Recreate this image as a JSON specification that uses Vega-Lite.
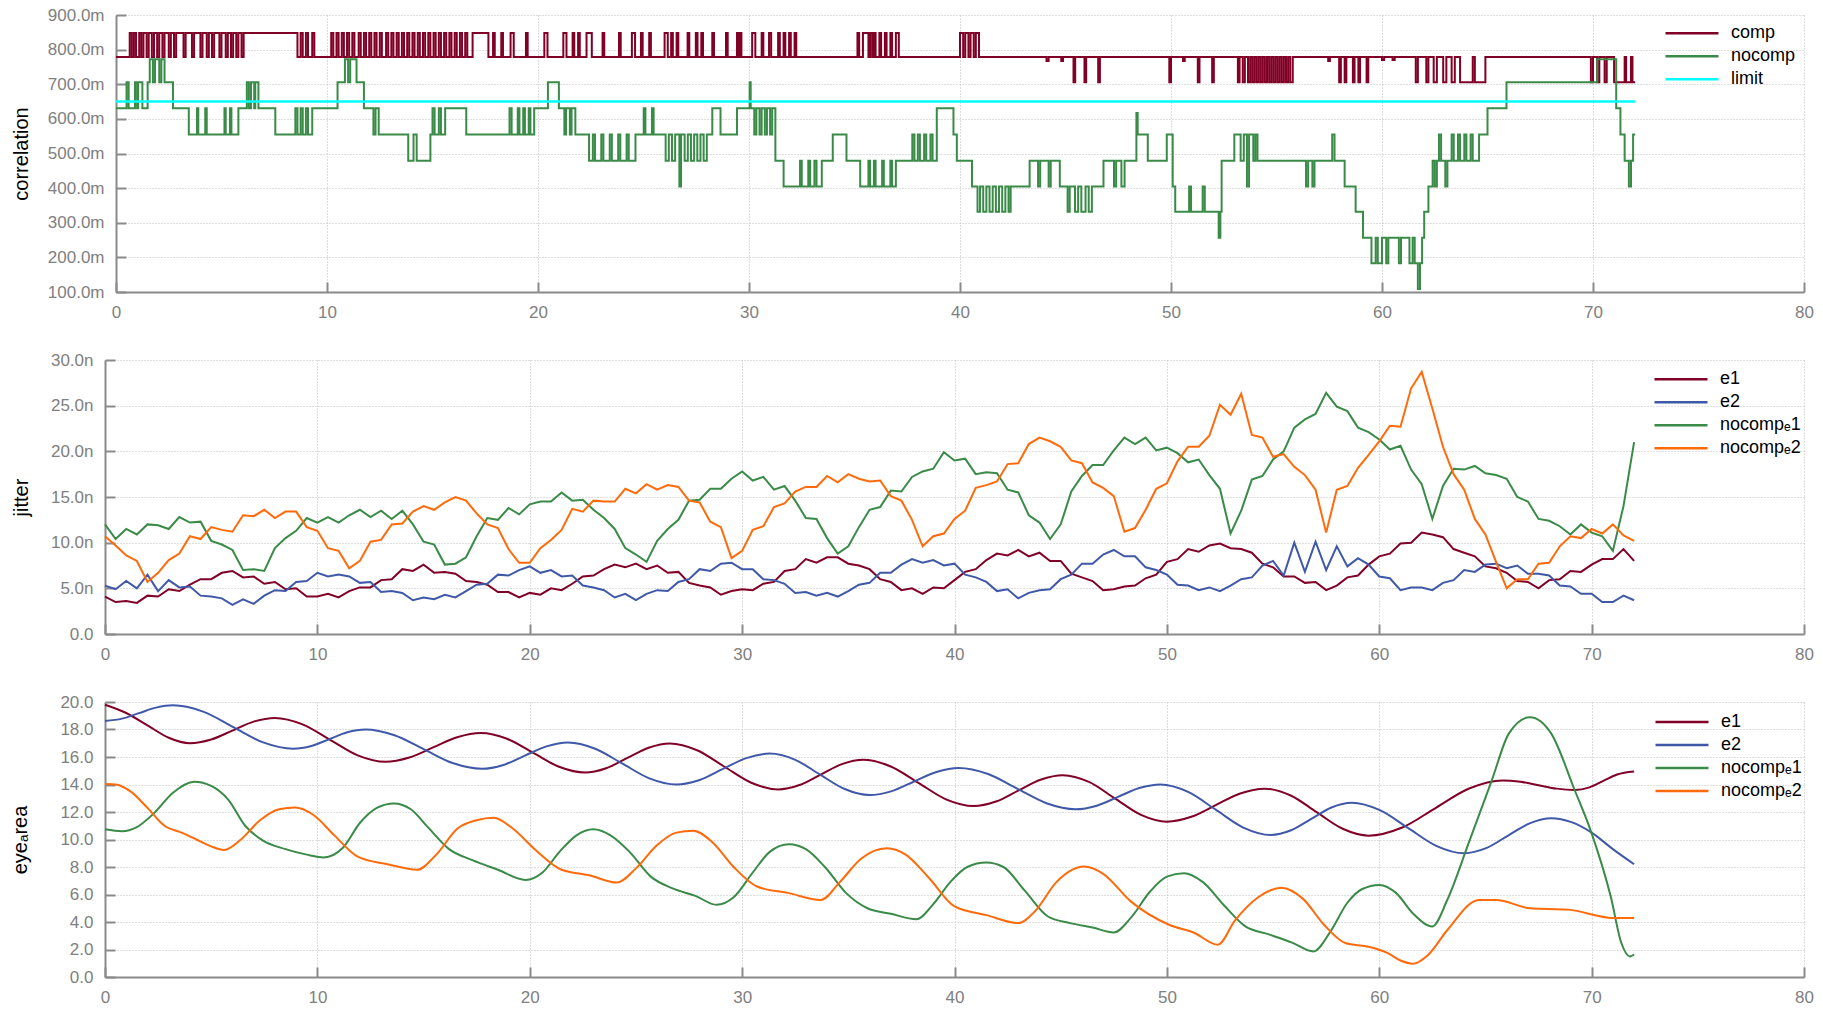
{
"$schema": "https://vega.github.io/schema/vega-lite/v6.json",
"background": "white",
"padding": {"left": 10, "top": 6, "right": 0, "bottom": 0},
"columns": 1,
"spacing": 31,
"resolve": {"scale": {"color": "independent"}, "legend": {"color": "independent"}},
"config": {
  "font": "Liberation Sans",
  "view": {"stroke": null},
  "axis": {
    "domainColor": "#8a8a8a", "domainWidth": 2,
    "tickColor": "#8a8a8a", "tickWidth": 2, "tickSize": -10,
    "labelPadding": 22, "labelColor": "#808080", "labelFontSize": 17, "labelFont": "Liberation Sans",
    "gridColor": "#bdbdbd", "gridDash": [1, 2], "gridWidth": 1,
    "titleFontSize": 20, "titleFontWeight": "normal", "titleColor": "#000000", "titlePadding": 13, "titleFont": "Liberation Sans"
  },
  "legend": {
    "title": null, "labelFontSize": 18, "labelColor": "#000000", "labelFont": "Liberation Sans",
    "symbolType": "stroke", "symbolSize": 2809, "symbolStrokeWidth": 2.5,
    "labelOffset": 11, "clipHeight": 22.6, "rowPadding": 0, "padding": 0
  }
},
"concat": [
{
  "width": 1699, "height": 277,
  "data": {"values": [
{"s":"comp","x":0,"y":0.779},{"s":"comp","x":0.65,"y":0.848},{"s":"comp","x":0.75,"y":0.779},{"s":"comp","x":0.85,"y":0.848},{"s":"comp","x":0.95,"y":0.779},{"s":"comp","x":1.1,"y":0.848},{"s":"comp","x":1.2,"y":0.779},{"s":"comp","x":1.3,"y":0.848},{"s":"comp","x":1.45,"y":0.779},{"s":"comp","x":1.55,"y":0.848},{"s":"comp","x":1.7,"y":0.779},{"s":"comp","x":1.8,"y":0.848},{"s":"comp","x":1.95,"y":0.779},{"s":"comp","x":2.05,"y":0.848},{"s":"comp","x":2.2,"y":0.779},{"s":"comp","x":2.3,"y":0.848},{"s":"comp","x":2.5,"y":0.779},{"s":"comp","x":2.6,"y":0.848},{"s":"comp","x":2.75,"y":0.779},{"s":"comp","x":2.85,"y":0.848},{"s":"comp","x":3.2,"y":0.779},{"s":"comp","x":3.3,"y":0.848},{"s":"comp","x":3.6,"y":0.779},{"s":"comp","x":3.7,"y":0.848},{"s":"comp","x":4.0,"y":0.779},{"s":"comp","x":4.1,"y":0.848},{"s":"comp","x":4.3,"y":0.779},{"s":"comp","x":4.4,"y":0.848},{"s":"comp","x":4.55,"y":0.779},{"s":"comp","x":4.65,"y":0.848},{"s":"comp","x":4.9,"y":0.779},{"s":"comp","x":5.0,"y":0.848},{"s":"comp","x":5.2,"y":0.779},{"s":"comp","x":5.3,"y":0.848},{"s":"comp","x":5.45,"y":0.779},{"s":"comp","x":5.55,"y":0.848},{"s":"comp","x":5.7,"y":0.779},{"s":"comp","x":5.8,"y":0.848},{"s":"comp","x":5.95,"y":0.779},{"s":"comp","x":6.05,"y":0.848},
{"s":"comp","x":8.6,"y":0.779},{"s":"comp","x":8.75,"y":0.848},{"s":"comp","x":8.85,"y":0.779},{"s":"comp","x":9.0,"y":0.848},{"s":"comp","x":9.1,"y":0.779},{"s":"comp","x":9.3,"y":0.848},{"s":"comp","x":9.4,"y":0.779},{"s":"comp","x":10.2,"y":0.848},{"s":"comp","x":10.3,"y":0.779},{"s":"comp","x":10.45,"y":0.848},{"s":"comp","x":10.55,"y":0.779},{"s":"comp","x":10.7,"y":0.848},{"s":"comp","x":10.8,"y":0.779},{"s":"comp","x":10.95,"y":0.848},{"s":"comp","x":11.05,"y":0.779},{"s":"comp","x":11.2,"y":0.848},{"s":"comp","x":11.3,"y":0.779},{"s":"comp","x":11.5,"y":0.848},{"s":"comp","x":11.6,"y":0.779},{"s":"comp","x":11.75,"y":0.848},{"s":"comp","x":11.85,"y":0.779},{"s":"comp","x":12.0,"y":0.848},{"s":"comp","x":12.1,"y":0.779},{"s":"comp","x":12.25,"y":0.848},{"s":"comp","x":12.35,"y":0.779},{"s":"comp","x":12.5,"y":0.848},{"s":"comp","x":12.6,"y":0.779},{"s":"comp","x":12.8,"y":0.848},{"s":"comp","x":12.9,"y":0.779},{"s":"comp","x":13.05,"y":0.848},{"s":"comp","x":13.15,"y":0.779},{"s":"comp","x":13.3,"y":0.848},{"s":"comp","x":13.4,"y":0.779},{"s":"comp","x":13.55,"y":0.848},{"s":"comp","x":13.65,"y":0.779},{"s":"comp","x":13.8,"y":0.848},{"s":"comp","x":13.9,"y":0.779},{"s":"comp","x":14.05,"y":0.848},{"s":"comp","x":14.15,"y":0.779},{"s":"comp","x":14.3,"y":0.848},{"s":"comp","x":14.4,"y":0.779},{"s":"comp","x":14.55,"y":0.848},{"s":"comp","x":14.65,"y":0.779},{"s":"comp","x":14.8,"y":0.848},{"s":"comp","x":14.9,"y":0.779},{"s":"comp","x":15.05,"y":0.848},{"s":"comp","x":15.15,"y":0.779},{"s":"comp","x":15.3,"y":0.848},{"s":"comp","x":15.4,"y":0.779},{"s":"comp","x":15.55,"y":0.848},{"s":"comp","x":15.65,"y":0.779},{"s":"comp","x":15.8,"y":0.848},{"s":"comp","x":15.9,"y":0.779},{"s":"comp","x":16.05,"y":0.848},{"s":"comp","x":16.15,"y":0.779},{"s":"comp","x":16.3,"y":0.848},{"s":"comp","x":16.4,"y":0.779},{"s":"comp","x":16.55,"y":0.848},{"s":"comp","x":16.65,"y":0.779},{"s":"comp","x":16.9,"y":0.848},{"s":"comp","x":17.65,"y":0.779},
{"s":"comp","x":17.87,"y":0.848},{"s":"comp","x":17.95,"y":0.779},{"s":"comp","x":18.26,"y":0.848},{"s":"comp","x":18.34,"y":0.779},{"s":"comp","x":18.7,"y":0.848},{"s":"comp","x":18.85,"y":0.779},{"s":"comp","x":19.43,"y":0.848},{"s":"comp","x":19.51,"y":0.779},{"s":"comp","x":20.3,"y":0.848},{"s":"comp","x":20.45,"y":0.779},{"s":"comp","x":21.2,"y":0.848},{"s":"comp","x":21.35,"y":0.779},{"s":"comp","x":21.64,"y":0.848},{"s":"comp","x":21.72,"y":0.779},{"s":"comp","x":21.9,"y":0.848},{"s":"comp","x":21.98,"y":0.779},{"s":"comp","x":22.3,"y":0.848},{"s":"comp","x":22.55,"y":0.779},{"s":"comp","x":23.06,"y":0.848},{"s":"comp","x":23.14,"y":0.779},{"s":"comp","x":23.84,"y":0.848},{"s":"comp","x":23.92,"y":0.779},{"s":"comp","x":24.45,"y":0.848},{"s":"comp","x":24.6,"y":0.779},{"s":"comp","x":24.88,"y":0.848},{"s":"comp","x":24.96,"y":0.779},{"s":"comp","x":25.27,"y":0.848},{"s":"comp","x":25.35,"y":0.779},{"s":"comp","x":26.0,"y":0.848},{"s":"comp","x":26.15,"y":0.779},{"s":"comp","x":26.31,"y":0.848},{"s":"comp","x":26.39,"y":0.779},{"s":"comp","x":26.57,"y":0.848},{"s":"comp","x":26.65,"y":0.779},{"s":"comp","x":27.09,"y":0.848},{"s":"comp","x":27.17,"y":0.779},{"s":"comp","x":27.48,"y":0.848},{"s":"comp","x":27.56,"y":0.779},{"s":"comp","x":27.74,"y":0.848},{"s":"comp","x":27.82,"y":0.779},{"s":"comp","x":28.26,"y":0.848},{"s":"comp","x":28.34,"y":0.779},{"s":"comp","x":28.91,"y":0.848},{"s":"comp","x":28.99,"y":0.779},{"s":"comp","x":29.43,"y":0.848},{"s":"comp","x":29.5,"y":0.779},{"s":"comp","x":29.56,"y":0.848},{"s":"comp","x":29.64,"y":0.779},{"s":"comp","x":30.15,"y":0.848},{"s":"comp","x":30.3,"y":0.779},{"s":"comp","x":30.6,"y":0.848},{"s":"comp","x":30.68,"y":0.779},{"s":"comp","x":30.95,"y":0.848},{"s":"comp","x":31.05,"y":0.779},{"s":"comp","x":31.38,"y":0.848},{"s":"comp","x":31.46,"y":0.779},{"s":"comp","x":31.64,"y":0.848},{"s":"comp","x":31.72,"y":0.779},{"s":"comp","x":31.9,"y":0.848},{"s":"comp","x":31.98,"y":0.779},{"s":"comp","x":32.16,"y":0.848},{"s":"comp","x":32.24,"y":0.779},
{"s":"comp","x":35.14,"y":0.848},{"s":"comp","x":35.22,"y":0.779},{"s":"comp","x":35.4,"y":0.848},{"s":"comp","x":35.66,"y":0.779},{"s":"comp","x":35.75,"y":0.848},{"s":"comp","x":35.85,"y":0.779},{"s":"comp","x":35.92,"y":0.848},{"s":"comp","x":36.0,"y":0.779},{"s":"comp","x":36.18,"y":0.848},{"s":"comp","x":36.26,"y":0.779},{"s":"comp","x":36.44,"y":0.848},{"s":"comp","x":36.52,"y":0.779},{"s":"comp","x":36.7,"y":0.848},{"s":"comp","x":36.78,"y":0.779},{"s":"comp","x":36.96,"y":0.848},{"s":"comp","x":37.1,"y":0.779},
{"s":"comp","x":40.0,"y":0.848},{"s":"comp","x":40.15,"y":0.779},{"s":"comp","x":40.25,"y":0.848},{"s":"comp","x":40.4,"y":0.779},{"s":"comp","x":40.5,"y":0.848},{"s":"comp","x":40.65,"y":0.779},{"s":"comp","x":40.75,"y":0.848},{"s":"comp","x":40.9,"y":0.779},
{"s":"comp","x":44.1,"y":0.767},{"s":"comp","x":44.2,"y":0.779},{"s":"comp","x":44.8,"y":0.767},{"s":"comp","x":44.88,"y":0.779},{"s":"comp","x":45.38,"y":0.706},{"s":"comp","x":45.46,"y":0.779},{"s":"comp","x":45.9,"y":0.706},{"s":"comp","x":45.98,"y":0.779},{"s":"comp","x":46.55,"y":0.706},{"s":"comp","x":46.63,"y":0.779},
{"s":"comp","x":49.92,"y":0.706},{"s":"comp","x":50.0,"y":0.779},{"s":"comp","x":50.57,"y":0.767},{"s":"comp","x":50.65,"y":0.779},{"s":"comp","x":51.27,"y":0.706},{"s":"comp","x":51.35,"y":0.779},{"s":"comp","x":51.95,"y":0.706},{"s":"comp","x":52.03,"y":0.779},
{"s":"comp","x":53.17,"y":0.706},{"s":"comp","x":53.25,"y":0.779},{"s":"comp","x":53.4,"y":0.706},{"s":"comp","x":53.5,"y":0.779},{"s":"comp","x":53.65,"y":0.706},{"s":"comp","x":53.75,"y":0.779},{"s":"comp","x":53.85,"y":0.706},{"s":"comp","x":53.95,"y":0.779},{"s":"comp","x":54.05,"y":0.706},{"s":"comp","x":54.15,"y":0.779},{"s":"comp","x":54.25,"y":0.706},{"s":"comp","x":54.35,"y":0.779},{"s":"comp","x":54.45,"y":0.706},{"s":"comp","x":54.55,"y":0.779},{"s":"comp","x":54.65,"y":0.706},{"s":"comp","x":54.75,"y":0.779},{"s":"comp","x":54.85,"y":0.706},{"s":"comp","x":54.95,"y":0.779},{"s":"comp","x":55.05,"y":0.706},{"s":"comp","x":55.15,"y":0.779},{"s":"comp","x":55.25,"y":0.706},{"s":"comp","x":55.35,"y":0.779},{"s":"comp","x":55.45,"y":0.706},{"s":"comp","x":55.55,"y":0.779},{"s":"comp","x":55.65,"y":0.706},{"s":"comp","x":55.77,"y":0.779},
{"s":"comp","x":57.45,"y":0.767},{"s":"comp","x":57.53,"y":0.779},{"s":"comp","x":57.97,"y":0.706},{"s":"comp","x":58.05,"y":0.779},{"s":"comp","x":58.23,"y":0.706},{"s":"comp","x":58.31,"y":0.779},{"s":"comp","x":58.62,"y":0.706},{"s":"comp","x":58.7,"y":0.779},{"s":"comp","x":58.88,"y":0.706},{"s":"comp","x":58.96,"y":0.779},{"s":"comp","x":59.27,"y":0.706},{"s":"comp","x":59.35,"y":0.779},{"s":"comp","x":60.0,"y":0.77},{"s":"comp","x":60.1,"y":0.779},{"s":"comp","x":60.5,"y":0.77},{"s":"comp","x":60.6,"y":0.779},
{"s":"comp","x":61.6,"y":0.706},{"s":"comp","x":61.7,"y":0.779},{"s":"comp","x":62.1,"y":0.706},{"s":"comp","x":62.2,"y":0.779},{"s":"comp","x":62.45,"y":0.706},{"s":"comp","x":62.6,"y":0.779},{"s":"comp","x":62.9,"y":0.706},{"s":"comp","x":63.05,"y":0.779},{"s":"comp","x":63.3,"y":0.706},{"s":"comp","x":63.45,"y":0.779},{"s":"comp","x":63.7,"y":0.706},{"s":"comp","x":64.3,"y":0.779},{"s":"comp","x":64.4,"y":0.706},{"s":"comp","x":64.9,"y":0.779},
{"s":"comp","x":69.9,"y":0.706},{"s":"comp","x":70.0,"y":0.779},{"s":"comp","x":70.2,"y":0.706},{"s":"comp","x":70.3,"y":0.779},{"s":"comp","x":70.55,"y":0.706},{"s":"comp","x":70.65,"y":0.779},{"s":"comp","x":71.0,"y":0.706},{"s":"comp","x":71.5,"y":0.779},{"s":"comp","x":71.57,"y":0.706},{"s":"comp","x":71.8,"y":0.779},{"s":"comp","x":71.87,"y":0.706},{"s":"comp","x":72.0,"y":0.706},
{"s":"nocomp","x":0,"y":0.631},{"s":"nocomp","x":0.5,"y":0.706},{"s":"nocomp","x":0.6,"y":0.631},{"s":"nocomp","x":0.9,"y":0.706},{"s":"nocomp","x":1.0,"y":0.631},{"s":"nocomp","x":1.05,"y":0.706},{"s":"nocomp","x":1.25,"y":0.631},{"s":"nocomp","x":1.5,"y":0.706},{"s":"nocomp","x":1.6,"y":0.772},{"s":"nocomp","x":1.75,"y":0.706},{"s":"nocomp","x":1.85,"y":0.772},{"s":"nocomp","x":2.05,"y":0.706},{"s":"nocomp","x":2.15,"y":0.772},{"s":"nocomp","x":2.3,"y":0.706},{"s":"nocomp","x":2.7,"y":0.631},{"s":"nocomp","x":3.45,"y":0.555},{"s":"nocomp","x":3.84,"y":0.631},{"s":"nocomp","x":3.9,"y":0.555},{"s":"nocomp","x":4.23,"y":0.631},{"s":"nocomp","x":4.3,"y":0.555},{"s":"nocomp","x":5.14,"y":0.631},{"s":"nocomp","x":5.2,"y":0.555},{"s":"nocomp","x":5.4,"y":0.631},{"s":"nocomp","x":5.47,"y":0.555},{"s":"nocomp","x":5.8,"y":0.631},{"s":"nocomp","x":6.2,"y":0.706},{"s":"nocomp","x":6.3,"y":0.631},{"s":"nocomp","x":6.4,"y":0.706},{"s":"nocomp","x":6.55,"y":0.631},{"s":"nocomp","x":6.6,"y":0.706},{"s":"nocomp","x":6.75,"y":0.631},{"s":"nocomp","x":7.55,"y":0.555},{"s":"nocomp","x":8.5,"y":0.631},{"s":"nocomp","x":8.6,"y":0.555},{"s":"nocomp","x":8.75,"y":0.631},{"s":"nocomp","x":8.85,"y":0.555},{"s":"nocomp","x":9.0,"y":0.631},{"s":"nocomp","x":9.1,"y":0.555},{"s":"nocomp","x":9.3,"y":0.631},{"s":"nocomp","x":10.5,"y":0.706},{"s":"nocomp","x":10.85,"y":0.772},{"s":"nocomp","x":11.0,"y":0.706},{"s":"nocomp","x":11.1,"y":0.772},{"s":"nocomp","x":11.4,"y":0.706},{"s":"nocomp","x":11.75,"y":0.631},{"s":"nocomp","x":12.2,"y":0.555},{"s":"nocomp","x":12.3,"y":0.631},{"s":"nocomp","x":12.45,"y":0.555},{"s":"nocomp","x":13.85,"y":0.479},{"s":"nocomp","x":14.1,"y":0.555},{"s":"nocomp","x":14.25,"y":0.479},{"s":"nocomp","x":14.9,"y":0.555},{"s":"nocomp","x":15.0,"y":0.631},{"s":"nocomp","x":15.1,"y":0.555},{"s":"nocomp","x":15.3,"y":0.631},{"s":"nocomp","x":15.4,"y":0.555},{"s":"nocomp","x":15.6,"y":0.631},{"s":"nocomp","x":16.6,"y":0.555},{"s":"nocomp","x":18.65,"y":0.631},{"s":"nocomp","x":18.75,"y":0.555},{"s":"nocomp","x":19.04,"y":0.631},{"s":"nocomp","x":19.12,"y":0.555},{"s":"nocomp","x":19.3,"y":0.631},{"s":"nocomp","x":19.38,"y":0.555},{"s":"nocomp","x":19.56,"y":0.631},{"s":"nocomp","x":19.64,"y":0.555},{"s":"nocomp","x":19.82,"y":0.631},{"s":"nocomp","x":20.47,"y":0.706},{"s":"nocomp","x":20.99,"y":0.631},{"s":"nocomp","x":21.25,"y":0.555},{"s":"nocomp","x":21.33,"y":0.631},{"s":"nocomp","x":21.51,"y":0.555},{"s":"nocomp","x":21.59,"y":0.631},{"s":"nocomp","x":21.77,"y":0.555},{"s":"nocomp","x":22.42,"y":0.479},{"s":"nocomp","x":22.6,"y":0.555},{"s":"nocomp","x":22.7,"y":0.479},{"s":"nocomp","x":23.0,"y":0.555},{"s":"nocomp","x":23.1,"y":0.479},{"s":"nocomp","x":23.4,"y":0.555},{"s":"nocomp","x":23.5,"y":0.479},{"s":"nocomp","x":23.8,"y":0.555},{"s":"nocomp","x":23.9,"y":0.479},{"s":"nocomp","x":24.2,"y":0.555},{"s":"nocomp","x":24.3,"y":0.479},{"s":"nocomp","x":24.62,"y":0.555},{"s":"nocomp","x":25.01,"y":0.631},{"s":"nocomp","x":25.09,"y":0.555},{"s":"nocomp","x":25.4,"y":0.631},{"s":"nocomp","x":25.48,"y":0.555},{"s":"nocomp","x":26.05,"y":0.479},{"s":"nocomp","x":26.2,"y":0.555},{"s":"nocomp","x":26.35,"y":0.479},{"s":"nocomp","x":26.5,"y":0.555},{"s":"nocomp","x":26.7,"y":0.405},{"s":"nocomp","x":26.78,"y":0.555},{"s":"nocomp","x":26.95,"y":0.479},{"s":"nocomp","x":27.1,"y":0.555},{"s":"nocomp","x":27.25,"y":0.479},{"s":"nocomp","x":27.4,"y":0.555},{"s":"nocomp","x":27.55,"y":0.479},{"s":"nocomp","x":27.7,"y":0.555},{"s":"nocomp","x":27.85,"y":0.479},{"s":"nocomp","x":28.0,"y":0.555},{"s":"nocomp","x":28.26,"y":0.631},{"s":"nocomp","x":28.65,"y":0.555},{"s":"nocomp","x":29.43,"y":0.631},{"s":"nocomp","x":30.03,"y":0.706},{"s":"nocomp","x":30.08,"y":0.631},{"s":"nocomp","x":30.25,"y":0.555},{"s":"nocomp","x":30.35,"y":0.631},{"s":"nocomp","x":30.5,"y":0.555},{"s":"nocomp","x":30.6,"y":0.631},{"s":"nocomp","x":30.75,"y":0.555},{"s":"nocomp","x":30.85,"y":0.631},{"s":"nocomp","x":31.0,"y":0.555},{"s":"nocomp","x":31.1,"y":0.631},{"s":"nocomp","x":31.25,"y":0.479},{"s":"nocomp","x":31.64,"y":0.405},{"s":"nocomp","x":32.42,"y":0.479},{"s":"nocomp","x":32.5,"y":0.405},{"s":"nocomp","x":32.81,"y":0.479},{"s":"nocomp","x":32.9,"y":0.405},{"s":"nocomp","x":33.1,"y":0.479},{"s":"nocomp","x":33.2,"y":0.405},{"s":"nocomp","x":33.45,"y":0.479},{"s":"nocomp","x":33.97,"y":0.555},{"s":"nocomp","x":34.62,"y":0.479},{"s":"nocomp","x":35.27,"y":0.405},{"s":"nocomp","x":35.66,"y":0.479},{"s":"nocomp","x":35.74,"y":0.405},{"s":"nocomp","x":35.92,"y":0.479},{"s":"nocomp","x":36.0,"y":0.405},{"s":"nocomp","x":36.31,"y":0.479},{"s":"nocomp","x":36.39,"y":0.405},{"s":"nocomp","x":36.7,"y":0.479},{"s":"nocomp","x":36.78,"y":0.405},{"s":"nocomp","x":36.96,"y":0.479},{"s":"nocomp","x":37.74,"y":0.555},{"s":"nocomp","x":37.84,"y":0.479},{"s":"nocomp","x":38.0,"y":0.555},{"s":"nocomp","x":38.1,"y":0.479},{"s":"nocomp","x":38.3,"y":0.555},{"s":"nocomp","x":38.4,"y":0.479},{"s":"nocomp","x":38.6,"y":0.555},{"s":"nocomp","x":38.7,"y":0.479},{"s":"nocomp","x":38.9,"y":0.631},{"s":"nocomp","x":39.69,"y":0.555},{"s":"nocomp","x":39.85,"y":0.479},{"s":"nocomp","x":40.57,"y":0.405},{"s":"nocomp","x":40.83,"y":0.332},{"s":"nocomp","x":40.95,"y":0.405},{"s":"nocomp","x":41.1,"y":0.332},{"s":"nocomp","x":41.25,"y":0.405},{"s":"nocomp","x":41.4,"y":0.332},{"s":"nocomp","x":41.55,"y":0.405},{"s":"nocomp","x":41.7,"y":0.332},{"s":"nocomp","x":41.85,"y":0.405},{"s":"nocomp","x":42.0,"y":0.332},{"s":"nocomp","x":42.15,"y":0.405},{"s":"nocomp","x":42.3,"y":0.332},{"s":"nocomp","x":42.4,"y":0.405},{"s":"nocomp","x":43.3,"y":0.479},{"s":"nocomp","x":43.7,"y":0.405},{"s":"nocomp","x":43.8,"y":0.479},{"s":"nocomp","x":44.2,"y":0.405},{"s":"nocomp","x":44.3,"y":0.479},{"s":"nocomp","x":44.73,"y":0.405},{"s":"nocomp","x":45.1,"y":0.332},{"s":"nocomp","x":45.2,"y":0.405},{"s":"nocomp","x":45.45,"y":0.332},{"s":"nocomp","x":45.6,"y":0.405},{"s":"nocomp","x":45.75,"y":0.332},{"s":"nocomp","x":45.95,"y":0.405},{"s":"nocomp","x":46.1,"y":0.332},{"s":"nocomp","x":46.25,"y":0.405},{"s":"nocomp","x":46.8,"y":0.479},{"s":"nocomp","x":47.3,"y":0.405},{"s":"nocomp","x":47.4,"y":0.479},{"s":"nocomp","x":47.65,"y":0.405},{"s":"nocomp","x":47.8,"y":0.479},{"s":"nocomp","x":48.36,"y":0.617},{"s":"nocomp","x":48.42,"y":0.555},{"s":"nocomp","x":48.9,"y":0.479},{"s":"nocomp","x":49.8,"y":0.555},{"s":"nocomp","x":50.08,"y":0.405},{"s":"nocomp","x":50.2,"y":0.332},{"s":"nocomp","x":50.86,"y":0.405},{"s":"nocomp","x":50.95,"y":0.332},{"s":"nocomp","x":51.5,"y":0.405},{"s":"nocomp","x":51.6,"y":0.332},{"s":"nocomp","x":52.26,"y":0.257},{"s":"nocomp","x":52.34,"y":0.332},{"s":"nocomp","x":52.4,"y":0.479},{"s":"nocomp","x":53.0,"y":0.555},{"s":"nocomp","x":53.3,"y":0.479},{"s":"nocomp","x":53.45,"y":0.555},{"s":"nocomp","x":53.6,"y":0.405},{"s":"nocomp","x":53.7,"y":0.555},{"s":"nocomp","x":53.9,"y":0.479},{"s":"nocomp","x":54.0,"y":0.555},{"s":"nocomp","x":54.1,"y":0.479},{"s":"nocomp","x":56.4,"y":0.405},{"s":"nocomp","x":56.5,"y":0.479},{"s":"nocomp","x":56.7,"y":0.405},{"s":"nocomp","x":56.8,"y":0.479},{"s":"nocomp","x":57.64,"y":0.555},{"s":"nocomp","x":57.75,"y":0.479},{"s":"nocomp","x":58.23,"y":0.405},{"s":"nocomp","x":58.75,"y":0.332},{"s":"nocomp","x":59.1,"y":0.257},{"s":"nocomp","x":59.5,"y":0.183},{"s":"nocomp","x":59.7,"y":0.257},{"s":"nocomp","x":59.8,"y":0.183},{"s":"nocomp","x":60.0,"y":0.257},{"s":"nocomp","x":60.2,"y":0.183},{"s":"nocomp","x":60.3,"y":0.257},{"s":"nocomp","x":60.8,"y":0.183},{"s":"nocomp","x":60.9,"y":0.257},{"s":"nocomp","x":61.3,"y":0.183},{"s":"nocomp","x":61.45,"y":0.257},{"s":"nocomp","x":61.55,"y":0.183},{"s":"nocomp","x":61.7,"y":0.109},{"s":"nocomp","x":61.8,"y":0.183},{"s":"nocomp","x":61.9,"y":0.257},{"s":"nocomp","x":62.0,"y":0.332},{"s":"nocomp","x":62.2,"y":0.405},{"s":"nocomp","x":62.4,"y":0.479},{"s":"nocomp","x":62.5,"y":0.405},{"s":"nocomp","x":62.6,"y":0.479},{"s":"nocomp","x":62.7,"y":0.555},{"s":"nocomp","x":62.8,"y":0.479},{"s":"nocomp","x":63.0,"y":0.405},{"s":"nocomp","x":63.1,"y":0.479},{"s":"nocomp","x":63.3,"y":0.555},{"s":"nocomp","x":63.4,"y":0.479},{"s":"nocomp","x":63.6,"y":0.555},{"s":"nocomp","x":63.7,"y":0.479},{"s":"nocomp","x":63.9,"y":0.555},{"s":"nocomp","x":64.0,"y":0.479},{"s":"nocomp","x":64.2,"y":0.555},{"s":"nocomp","x":64.3,"y":0.479},{"s":"nocomp","x":64.6,"y":0.555},{"s":"nocomp","x":65.0,"y":0.631},{"s":"nocomp","x":65.9,"y":0.706},{"s":"nocomp","x":70.2,"y":0.772},{"s":"nocomp","x":71.1,"y":0.631},{"s":"nocomp","x":71.3,"y":0.555},{"s":"nocomp","x":71.5,"y":0.479},{"s":"nocomp","x":71.7,"y":0.405},{"s":"nocomp","x":71.8,"y":0.479},{"s":"nocomp","x":71.9,"y":0.555},{"s":"nocomp","x":72.0,"y":0.555},
{"s":"limit","x":0,"y":0.65},{"s":"limit","x":72,"y":0.65}
  ]},
  "encoding": {
    "x": {"field": "x", "type": "quantitative", "scale": {"domain": [0, 80], "nice": false, "range": [11, 1699]}, "axis": {"values": [0,10,20,30,40,50,60,70,80], "format": "d", "labelFlush": false, "title": null}},
    "y": {"field": "y", "type": "quantitative", "scale": {"domain": [0.1, 0.9], "nice": false, "zero": false}, "axis": {"values": [0.1,0.2,0.3,0.4,0.5,0.6,0.7,0.8,0.9], "labelExpr": "format(datum.value*1000,'.1f')+'m'", "title": "correlation", "minExtent": 72, "maxExtent": 72, "offset": -11}},
    "color": {"field": "s", "type": "nominal", "scale": {"domain": ["comp","nocomp","limit"], "range": ["#800026","#3a8a48","#00ffff"]}, "legend": {"orient": "none", "legendX": 1559, "legendY": 7}}
  },
  "layer": [
    {"transform": [{"filter": "datum.s != 'limit'"}], "mark": {"type": "line", "interpolate": "step-after", "strokeWidth": 2}},
    {"transform": [{"filter": "datum.s == 'limit'"}], "mark": {"type": "line", "strokeWidth": 2.5}}
  ]
},
{
  "width": 1699, "height": 274,
  "data": {"values": [
{"x":0,"e1":4.1,"e2":5.3,"n1":12.0,"n2":10.7},{"x":0.5,"e1":3.5,"e2":4.9,"n1":10.4,"n2":9.7},{"x":1,"e1":3.6,"e2":5.8,"n1":11.5,"n2":8.6},{"x":1.5,"e1":3.4,"e2":5.0,"n1":10.9,"n2":8.0},{"x":2,"e1":4.2,"e2":6.5,"n1":12.0,"n2":5.7},{"x":2.5,"e1":4.1,"e2":4.7,"n1":11.9,"n2":6.7},{"x":3,"e1":4.9,"e2":5.9,"n1":11.5,"n2":8.1},{"x":3.5,"e1":4.7,"e2":5.1,"n1":12.8,"n2":8.8},{"x":4,"e1":5.4,"e2":5.2,"n1":12.2,"n2":10.7},{"x":4.5,"e1":6.0,"e2":4.2,"n1":12.3,"n2":10.4},{"x":5,"e1":6.0,"e2":4.1,"n1":10.2,"n2":11.7},{"x":5.5,"e1":6.7,"e2":3.9,"n1":9.8,"n2":11.4},{"x":6,"e1":6.9,"e2":3.2,"n1":9.2,"n2":11.2},{"x":6.5,"e1":6.2,"e2":3.8,"n1":7.0,"n2":13.0},{"x":7,"e1":6.3,"e2":3.3,"n1":7.1,"n2":12.9},{"x":7.5,"e1":5.5,"e2":4.2,"n1":6.9,"n2":13.6},{"x":8,"e1":5.7,"e2":4.8,"n1":9.4,"n2":12.7},{"x":8.5,"e1":4.9,"e2":4.7,"n1":10.5,"n2":13.4},{"x":9,"e1":5.0,"e2":5.7,"n1":11.3,"n2":13.4},{"x":9.5,"e1":4.1,"e2":5.8,"n1":12.7,"n2":11.7},{"x":10,"e1":4.1,"e2":6.7,"n1":12.2,"n2":11.3},{"x":10.5,"e1":4.4,"e2":6.3,"n1":12.8,"n2":9.4},{"x":11,"e1":4.0,"e2":6.5,"n1":12.2,"n2":9.1},{"x":11.5,"e1":4.7,"e2":6.3,"n1":13.0,"n2":7.2},{"x":12,"e1":5.1,"e2":5.6,"n1":13.6,"n2":8.0},{"x":12.5,"e1":5.1,"e2":5.7,"n1":12.8,"n2":10.1},{"x":13,"e1":5.9,"e2":4.6,"n1":13.5,"n2":10.3},{"x":13.5,"e1":6.0,"e2":4.7,"n1":12.6,"n2":12.0},{"x":14,"e1":7.1,"e2":4.5,"n1":13.5,"n2":12.1},{"x":14.5,"e1":6.9,"e2":3.7,"n1":12.0,"n2":13.4},{"x":15,"e1":7.6,"e2":4.0,"n1":10.1,"n2":14.0},{"x":15.5,"e1":6.7,"e2":3.8,"n1":9.8,"n2":13.6},{"x":16,"e1":6.8,"e2":4.3,"n1":7.6,"n2":14.4},{"x":16.5,"e1":6.6,"e2":4.0,"n1":7.7,"n2":15.0},{"x":17,"e1":5.8,"e2":4.7,"n1":8.4,"n2":14.6},{"x":17.5,"e1":5.7,"e2":5.4,"n1":10.7,"n2":13.2},{"x":18,"e1":5.4,"e2":5.5,"n1":12.7,"n2":12.0},{"x":18.5,"e1":4.6,"e2":6.5,"n1":12.5,"n2":11.6},{"x":19,"e1":4.6,"e2":6.4,"n1":13.8,"n2":9.3},{"x":19.5,"e1":4.0,"e2":7.0,"n1":13.1,"n2":7.8},{"x":20,"e1":4.5,"e2":7.4,"n1":14.2,"n2":7.8},{"x":20.5,"e1":4.3,"e2":6.7,"n1":14.5,"n2":9.4},{"x":21,"e1":5.0,"e2":7.0,"n1":14.5,"n2":10.3},{"x":21.5,"e1":4.8,"e2":6.3,"n1":15.5,"n2":11.4},{"x":22,"e1":5.5,"e2":6.4,"n1":14.6,"n2":13.7},{"x":22.5,"e1":6.3,"e2":5.3,"n1":14.7,"n2":13.4},{"x":23,"e1":6.4,"e2":5.1,"n1":13.6,"n2":14.6},{"x":23.5,"e1":7.1,"e2":4.8,"n1":12.7,"n2":14.5},{"x":24,"e1":7.6,"e2":4.0,"n1":11.5,"n2":14.5},{"x":24.5,"e1":7.3,"e2":4.4,"n1":9.4,"n2":15.9},{"x":25,"e1":7.7,"e2":3.7,"n1":8.7,"n2":15.4},{"x":25.5,"e1":7.1,"e2":4.4,"n1":7.9,"n2":16.4},{"x":26,"e1":7.5,"e2":4.8,"n1":10.2,"n2":15.8},{"x":26.5,"e1":6.7,"e2":4.7,"n1":11.5,"n2":16.3},{"x":27,"e1":6.8,"e2":5.7,"n1":12.5,"n2":16.1},{"x":27.5,"e1":5.6,"e2":6.0,"n1":14.6,"n2":14.6},{"x":28,"e1":5.3,"e2":7.1,"n1":14.7,"n2":14.4},{"x":28.5,"e1":5.1,"e2":6.9,"n1":15.9,"n2":12.3},{"x":29,"e1":4.3,"e2":7.7,"n1":15.9,"n2":11.7},{"x":29.5,"e1":4.7,"e2":7.8,"n1":17.0,"n2":8.3},{"x":30,"e1":4.9,"e2":7.1,"n1":17.8,"n2":9.1},{"x":30.5,"e1":4.8,"e2":7.1,"n1":16.8,"n2":11.4},{"x":31,"e1":5.5,"e2":6.0,"n1":17.2,"n2":11.8},{"x":31.5,"e1":5.7,"e2":5.9,"n1":15.8,"n2":13.9},{"x":32,"e1":6.9,"e2":5.5,"n1":16.2,"n2":14.3},{"x":32.5,"e1":7.1,"e2":4.5,"n1":14.6,"n2":15.6},{"x":33,"e1":8.2,"e2":4.6,"n1":12.7,"n2":16.1},{"x":33.5,"e1":7.8,"e2":4.2,"n1":12.6,"n2":16.1},{"x":34,"e1":8.4,"e2":4.5,"n1":10.5,"n2":17.3},{"x":34.5,"e1":8.4,"e2":4.1,"n1":8.8,"n2":16.6},{"x":35,"e1":7.7,"e2":4.7,"n1":9.6,"n2":17.5},{"x":35.5,"e1":7.5,"e2":5.4,"n1":11.7,"n2":17.0},{"x":36,"e1":7.1,"e2":5.6,"n1":13.6,"n2":16.7},{"x":36.5,"e1":6.0,"e2":6.7,"n1":13.9,"n2":16.8},{"x":37,"e1":5.7,"e2":6.7,"n1":15.7,"n2":15.1},{"x":37.5,"e1":4.8,"e2":7.6,"n1":15.6,"n2":14.6},{"x":38,"e1":5.0,"e2":8.2,"n1":17.2,"n2":12.5},{"x":38.5,"e1":4.4,"e2":7.8,"n1":17.8,"n2":9.6},{"x":39,"e1":5.1,"e2":8.1,"n1":18.1,"n2":10.7},{"x":39.5,"e1":5.0,"e2":7.5,"n1":19.9,"n2":11.0},{"x":40,"e1":5.9,"e2":7.7,"n1":19.0,"n2":12.6},{"x":40.5,"e1":6.8,"e2":6.5,"n1":19.2,"n2":13.5},{"x":41,"e1":7.1,"e2":6.2,"n1":17.5,"n2":16.0},{"x":41.5,"e1":8.1,"e2":5.7,"n1":17.7,"n2":16.3},{"x":42,"e1":8.8,"e2":4.7,"n1":17.6,"n2":16.7},{"x":42.5,"e1":8.6,"e2":4.9,"n1":15.8,"n2":18.6},{"x":43,"e1":9.2,"e2":3.9,"n1":15.5,"n2":18.7},{"x":43.5,"e1":8.5,"e2":4.5,"n1":13.0,"n2":20.8},{"x":44,"e1":8.9,"e2":4.8,"n1":12.2,"n2":21.5},{"x":44.5,"e1":8.0,"e2":4.9,"n1":10.4,"n2":21.1},{"x":45,"e1":8.0,"e2":6.0,"n1":12.0,"n2":20.5},{"x":45.5,"e1":6.6,"e2":6.5,"n1":15.6,"n2":19.0},{"x":46,"e1":6.2,"e2":7.7,"n1":17.3,"n2":18.7},{"x":46.5,"e1":5.8,"e2":7.7,"n1":18.5,"n2":16.6},{"x":47,"e1":4.8,"e2":8.7,"n1":18.5,"n2":16.0},{"x":47.5,"e1":4.9,"e2":9.2,"n1":20.1,"n2":15.1},{"x":48,"e1":5.2,"e2":8.5,"n1":21.5,"n2":11.2},{"x":48.5,"e1":5.3,"e2":8.5,"n1":20.8,"n2":11.6},{"x":49,"e1":6.1,"e2":7.3,"n1":21.5,"n2":13.6},{"x":49.5,"e1":6.5,"e2":7.0,"n1":20.1,"n2":15.9},{"x":50,"e1":7.9,"e2":6.5,"n1":20.4,"n2":16.5},{"x":50.5,"e1":8.2,"e2":5.4,"n1":19.8,"n2":18.9},{"x":51,"e1":9.3,"e2":5.3,"n1":18.8,"n2":20.5},{"x":51.5,"e1":9.0,"e2":4.8,"n1":19.1,"n2":20.5},{"x":52,"e1":9.7,"e2":5.1,"n1":17.4,"n2":21.7},{"x":52.5,"e1":9.9,"e2":4.7,"n1":15.9,"n2":25.1},{"x":53,"e1":9.4,"e2":5.3,"n1":11.0,"n2":24.0},{"x":53.5,"e1":9.3,"e2":6.0,"n1":13.5,"n2":26.3},{"x":54,"e1":8.9,"e2":6.2,"n1":16.9,"n2":21.8},{"x":54.5,"e1":7.7,"e2":7.5,"n1":17.3,"n2":21.5},{"x":55,"e1":7.3,"e2":8.0,"n1":19.1,"n2":19.4},{"x":55.5,"e1":6.3,"e2":6.4,"n1":20.0,"n2":19.7},{"x":56,"e1":6.3,"e2":10.0,"n1":22.6,"n2":18.3},{"x":56.5,"e1":5.6,"e2":6.8,"n1":23.5,"n2":17.4},{"x":57,"e1":5.7,"e2":10.1,"n1":24.1,"n2":15.8},{"x":57.5,"e1":4.8,"e2":7.0,"n1":26.4,"n2":11.1},{"x":58,"e1":5.3,"e2":9.6,"n1":24.9,"n2":15.8},{"x":58.5,"e1":6.2,"e2":7.4,"n1":24.4,"n2":16.2},{"x":59,"e1":6.4,"e2":8.3,"n1":22.6,"n2":18.2},{"x":59.5,"e1":7.6,"e2":7.6,"n1":22.1,"n2":19.6},{"x":60,"e1":8.5,"e2":6.3,"n1":21.3,"n2":21.1},{"x":60.5,"e1":8.8,"e2":6.1,"n1":20.2,"n2":22.8},{"x":61,"e1":9.9,"e2":4.8,"n1":20.6,"n2":22.7},{"x":61.5,"e1":10.0,"e2":5.1,"n1":18.0,"n2":26.9},{"x":62,"e1":11.1,"e2":5.1,"n1":16.4,"n2":28.7},{"x":62.5,"e1":10.9,"e2":4.8,"n1":12.6,"n2":24.7},{"x":63,"e1":10.6,"e2":5.6,"n1":16.2,"n2":20.5},{"x":63.5,"e1":9.3,"e2":5.9,"n1":18.1,"n2":17.5},{"x":64,"e1":8.9,"e2":7.0,"n1":18.0,"n2":15.8},{"x":64.5,"e1":8.5,"e2":6.8,"n1":18.4,"n2":12.6},{"x":65,"e1":7.4,"e2":7.6,"n1":17.6,"n2":10.9},{"x":65.5,"e1":7.2,"e2":7.7,"n1":17.4,"n2":7.9},{"x":66,"e1":6.7,"e2":7.2,"n1":17.0,"n2":5.0},{"x":66.5,"e1":5.8,"e2":7.5,"n1":15.0,"n2":6.0},{"x":67,"e1":5.7,"e2":6.6,"n1":14.5,"n2":6.0},{"x":67.5,"e1":5.0,"e2":6.6,"n1":12.6,"n2":7.7},{"x":68,"e1":5.9,"e2":6.4,"n1":12.4,"n2":7.8},{"x":68.5,"e1":6.0,"e2":5.3,"n1":11.8,"n2":9.6},{"x":69,"e1":6.9,"e2":5.2,"n1":10.9,"n2":10.7},{"x":69.5,"e1":6.8,"e2":4.4,"n1":12.0,"n2":10.5},{"x":70,"e1":7.6,"e2":4.4,"n1":11.1,"n2":11.5},{"x":70.5,"e1":8.2,"e2":3.5,"n1":10.7,"n2":11.0},{"x":71,"e1":8.2,"e2":3.5,"n1":9.1,"n2":12.0},{"x":71.5,"e1":9.3,"e2":4.2,"n1":14.0,"n2":10.8},{"x":72,"e1":8.0,"e2":3.7,"n1":21.0,"n2":10.2}
  ]},
  "transform": [{"fold": ["e1","e2","n1","n2"], "as": ["s","y"]}],
  "mark": {"type": "line", "strokeWidth": 2},
  "encoding": {
    "x": {"field": "x", "type": "quantitative", "scale": {"domain": [0, 80], "nice": false}, "axis": {"values": [0,10,20,30,40,50,60,70,80], "format": "d", "labelFlush": false, "title": null}},
    "y": {"field": "y", "type": "quantitative", "scale": {"domain": [0, 30], "nice": false}, "axis": {"values": [0,5,10,15,20,25,30], "labelExpr": "datum.value==0?'0.0':format(datum.value,'.1f')+'n'", "title": "jitter", "minExtent": 61, "maxExtent": 61}},
    "color": {"field": "s", "type": "nominal", "scale": {"domain": ["e1","e2","n1","n2"], "range": ["#800026","#3f58a8","#3a8a48","#ff6a0a"]}, "legend": {"orient": "none", "legendX": 1548, "legendY": 8, "labelExpr": "datum.label=='n1'?'nocompₑ1':datum.label=='n2'?'nocompₑ2':datum.label"}}
  }
},
{
  "width": 1699, "height": 275,
  "data": {"values": [
{"s":"e1","x":0,"y":19.8},{"s":"e1","x":1,"y":19.2},{"s":"e1","x":2,"y":18.3},{"s":"e1","x":3,"y":17.4},{"s":"e1","x":4,"y":17.0},{"s":"e1","x":5,"y":17.27},{"s":"e1","x":6,"y":17.92},{"s":"e1","x":7,"y":18.57},{"s":"e1","x":8,"y":18.84},{"s":"e1","x":9.3,"y":18.37},{"s":"e1","x":10.6,"y":17.25},{"s":"e1","x":11.9,"y":16.12},{"s":"e1","x":13.2,"y":15.65},{"s":"e1","x":14.33,"y":15.96},{"s":"e1","x":15.45,"y":16.7},{"s":"e1","x":16.58,"y":17.44},{"s":"e1","x":17.7,"y":17.75},{"s":"e1","x":18.93,"y":17.33},{"s":"e1","x":20.15,"y":16.31},{"s":"e1","x":21.38,"y":15.29},{"s":"e1","x":22.6,"y":14.87},{"s":"e1","x":23.6,"y":15.18},{"s":"e1","x":24.6,"y":15.93},{"s":"e1","x":25.6,"y":16.67},{"s":"e1","x":26.6,"y":16.98},{"s":"e1","x":27.88,"y":16.49},{"s":"e1","x":29.15,"y":15.31},{"s":"e1","x":30.43,"y":14.13},{"s":"e1","x":31.7,"y":13.64},{"s":"e1","x":32.7,"y":13.96},{"s":"e1","x":33.7,"y":14.72},{"s":"e1","x":34.7,"y":15.48},{"s":"e1","x":35.7,"y":15.8},{"s":"e1","x":37,"y":15.31},{"s":"e1","x":38.3,"y":14.12},{"s":"e1","x":39.6,"y":12.92},{"s":"e1","x":40.9,"y":12.43},{"s":"e1","x":41.95,"y":12.76},{"s":"e1","x":43,"y":13.56},{"s":"e1","x":44.05,"y":14.35},{"s":"e1","x":45.1,"y":14.68},{"s":"e1","x":46.33,"y":14.19},{"s":"e1","x":47.55,"y":12.99},{"s":"e1","x":48.78,"y":11.79},{"s":"e1","x":50,"y":11.3},{"s":"e1","x":51.15,"y":11.65},{"s":"e1","x":52.3,"y":12.5},{"s":"e1","x":53.45,"y":13.35},{"s":"e1","x":54.6,"y":13.7},{"s":"e1","x":55.83,"y":13.2},{"s":"e1","x":57.05,"y":11.99},{"s":"e1","x":58.28,"y":10.78},{"s":"e1","x":59.5,"y":10.28},{"s":"e1","x":61.08,"y":10.87},{"s":"e1","x":62.65,"y":12.29},{"s":"e1","x":64.23,"y":13.71},{"s":"e1","x":65.8,"y":14.3},{"s":"e1","x":66.65,"y":14.2},{"s":"e1","x":67.5,"y":13.95},{"s":"e1","x":68.35,"y":13.7},{"s":"e1","x":69.2,"y":13.6},{"s":"e1","x":69.9,"y":13.79},{"s":"e1","x":70.55,"y":14.26},{"s":"e1","x":71.2,"y":14.73},{"s":"e1","x":72,"y":14.95},
{"s":"e2","x":0,"y":18.62},{"s":"e2","x":0.8,"y":18.79},{"s":"e2","x":1.6,"y":19.19},{"s":"e2","x":2.4,"y":19.59},{"s":"e2","x":3.2,"y":19.76},{"s":"e2","x":4.62,"y":19.3},{"s":"e2","x":6.04,"y":18.18},{"s":"e2","x":7.45,"y":17.06},{"s":"e2","x":8.87,"y":16.6},{"s":"e2","x":9.72,"y":16.8},{"s":"e2","x":10.57,"y":17.3},{"s":"e2","x":11.41,"y":17.8},{"s":"e2","x":12.26,"y":18.0},{"s":"e2","x":13.63,"y":17.58},{"s":"e2","x":15,"y":16.57},{"s":"e2","x":16.37,"y":15.56},{"s":"e2","x":17.74,"y":15.14},{"s":"e2","x":18.76,"y":15.42},{"s":"e2","x":19.77,"y":16.1},{"s":"e2","x":20.79,"y":16.77},{"s":"e2","x":21.8,"y":17.05},{"s":"e2","x":23.08,"y":16.6},{"s":"e2","x":24.35,"y":15.53},{"s":"e2","x":25.63,"y":14.45},{"s":"e2","x":26.9,"y":14.0},{"s":"e2","x":28,"y":14.33},{"s":"e2","x":29.1,"y":15.13},{"s":"e2","x":30.2,"y":15.92},{"s":"e2","x":31.3,"y":16.25},{"s":"e2","x":32.48,"y":15.81},{"s":"e2","x":33.65,"y":14.74},{"s":"e2","x":34.83,"y":13.67},{"s":"e2","x":36,"y":13.23},{"s":"e2","x":37.05,"y":13.52},{"s":"e2","x":38.1,"y":14.22},{"s":"e2","x":39.15,"y":14.91},{"s":"e2","x":40.2,"y":15.2},{"s":"e2","x":41.58,"y":14.76},{"s":"e2","x":42.95,"y":13.7},{"s":"e2","x":44.33,"y":12.64},{"s":"e2","x":45.7,"y":12.2},{"s":"e2","x":46.7,"y":12.46},{"s":"e2","x":47.7,"y":13.1},{"s":"e2","x":48.7,"y":13.74},{"s":"e2","x":49.7,"y":14.0},{"s":"e2","x":51,"y":13.46},{"s":"e2","x":52.3,"y":12.17},{"s":"e2","x":53.6,"y":10.87},{"s":"e2","x":54.9,"y":10.33},{"s":"e2","x":55.85,"y":10.67},{"s":"e2","x":56.8,"y":11.5},{"s":"e2","x":57.75,"y":12.33},{"s":"e2","x":58.7,"y":12.67},{"s":"e2","x":60.03,"y":12.13},{"s":"e2","x":61.35,"y":10.84},{"s":"e2","x":62.68,"y":9.54},{"s":"e2","x":64,"y":9.0},{"s":"e2","x":65.03,"y":9.37},{"s":"e2","x":66.05,"y":10.27},{"s":"e2","x":67.08,"y":11.17},{"s":"e2","x":68.1,"y":11.54},{"s":"e2","x":69.05,"y":11.26},{"s":"e2","x":70,"y":10.5},{"s":"e2","x":71,"y":9.3},{"s":"e2","x":72,"y":8.2},
{"s":"n1","x":0,"y":10.74},{"s":"n1","x":0.8,"y":10.6},{"s":"n1","x":1.5,"y":10.9},{"s":"n1","x":2.3,"y":11.9},{"s":"n1","x":3.2,"y":13.4},{"s":"n1","x":4.2,"y":14.2},{"s":"n1","x":5,"y":13.9},{"s":"n1","x":5.8,"y":12.9},{"s":"n1","x":6.6,"y":11.0},{"s":"n1","x":7.4,"y":9.96},{"s":"n1","x":8.5,"y":9.3},{"s":"n1","x":9.5,"y":8.9},{"s":"n1","x":10.3,"y":8.7},{"s":"n1","x":11.2,"y":9.4},{"s":"n1","x":12,"y":11.2},{"s":"n1","x":12.8,"y":12.3},{"s":"n1","x":13.6,"y":12.62},{"s":"n1","x":14.4,"y":12.2},{"s":"n1","x":15.2,"y":10.9},{"s":"n1","x":16.2,"y":9.3},{"s":"n1","x":17.3,"y":8.5},{"s":"n1","x":18.5,"y":7.8},{"s":"n1","x":19.8,"y":7.06},{"s":"n1","x":20.6,"y":7.6},{"s":"n1","x":21.4,"y":9.1},{"s":"n1","x":22.2,"y":10.3},{"s":"n1","x":23,"y":10.74},{"s":"n1","x":23.8,"y":10.3},{"s":"n1","x":24.7,"y":9.1},{"s":"n1","x":25.7,"y":7.3},{"s":"n1","x":26.7,"y":6.46},{"s":"n1","x":27.8,"y":5.9},{"s":"n1","x":28.8,"y":5.25},{"s":"n1","x":29.6,"y":5.8},{"s":"n1","x":30.5,"y":7.6},{"s":"n1","x":31.3,"y":9.1},{"s":"n1","x":32.2,"y":9.65},{"s":"n1","x":33,"y":9.3},{"s":"n1","x":33.9,"y":8.0},{"s":"n1","x":34.9,"y":6.1},{"s":"n1","x":35.9,"y":5.0},{"s":"n1","x":37,"y":4.6},{"s":"n1","x":38.2,"y":4.2},{"s":"n1","x":39,"y":5.3},{"s":"n1","x":39.8,"y":6.9},{"s":"n1","x":40.6,"y":8.0},{"s":"n1","x":41.5,"y":8.32},{"s":"n1","x":42.3,"y":8.0},{"s":"n1","x":43.3,"y":6.3},{"s":"n1","x":44.4,"y":4.4},{"s":"n1","x":45.5,"y":3.9},{"s":"n1","x":46.5,"y":3.6},{"s":"n1","x":47.5,"y":3.24},{"s":"n1","x":48.3,"y":4.3},{"s":"n1","x":49.2,"y":6.2},{"s":"n1","x":50,"y":7.3},{"s":"n1","x":50.8,"y":7.55},{"s":"n1","x":51.7,"y":6.9},{"s":"n1","x":52.7,"y":5.2},{"s":"n1","x":53.7,"y":3.68},{"s":"n1","x":54.8,"y":3.1},{"s":"n1","x":55.9,"y":2.5},{"s":"n1","x":56.9,"y":1.86},{"s":"n1","x":57.7,"y":3.3},{"s":"n1","x":58.5,"y":5.4},{"s":"n1","x":59.2,"y":6.4},{"s":"n1","x":60,"y":6.7},{"s":"n1","x":60.8,"y":6.1},{"s":"n1","x":61.6,"y":4.6},{"s":"n1","x":62.5,"y":3.68},{"s":"n1","x":63.2,"y":5.6},{"s":"n1","x":64.2,"y":9.7},{"s":"n1","x":65.3,"y":14.3},{"s":"n1","x":66.1,"y":17.7},{"s":"n1","x":67.1,"y":18.9},{"s":"n1","x":68.1,"y":17.7},{"s":"n1","x":69.2,"y":13.6},{"s":"n1","x":70,"y":10.45},{"s":"n1","x":70.9,"y":5.85},{"s":"n1","x":71.4,"y":2.47},{"s":"n1","x":71.8,"y":1.5},{"s":"n1","x":72,"y":1.62},
{"s":"n2","x":0,"y":14.03},{"s":"n2","x":0.5,"y":14.0},{"s":"n2","x":1.2,"y":13.5},{"s":"n2","x":2,"y":12.3},{"s":"n2","x":2.8,"y":11.0},{"s":"n2","x":3.6,"y":10.5},{"s":"n2","x":4.3,"y":10.0},{"s":"n2","x":5,"y":9.5},{"s":"n2","x":5.6,"y":9.24},{"s":"n2","x":6.4,"y":10.0},{"s":"n2","x":7.3,"y":11.4},{"s":"n2","x":8.2,"y":12.2},{"s":"n2","x":8.95,"y":12.33},{"s":"n2","x":9.8,"y":11.8},{"s":"n2","x":10.8,"y":10.3},{"s":"n2","x":11.9,"y":8.75},{"s":"n2","x":13.3,"y":8.2},{"s":"n2","x":14.7,"y":7.8},{"s":"n2","x":15.6,"y":8.9},{"s":"n2","x":16.6,"y":10.8},{"s":"n2","x":17.5,"y":11.4},{"s":"n2","x":18.3,"y":11.58},{"s":"n2","x":19.2,"y":10.8},{"s":"n2","x":20.3,"y":9.2},{"s":"n2","x":21.5,"y":7.8},{"s":"n2","x":22.8,"y":7.4},{"s":"n2","x":24.1,"y":6.87},{"s":"n2","x":25,"y":7.9},{"s":"n2","x":26,"y":9.6},{"s":"n2","x":26.9,"y":10.5},{"s":"n2","x":27.7,"y":10.64},{"s":"n2","x":28.6,"y":9.8},{"s":"n2","x":29.6,"y":8.0},{"s":"n2","x":30.7,"y":6.58},{"s":"n2","x":32.2,"y":6.1},{"s":"n2","x":33.7,"y":5.6},{"s":"n2","x":34.6,"y":6.9},{"s":"n2","x":35.6,"y":8.6},{"s":"n2","x":36.8,"y":9.36},{"s":"n2","x":37.7,"y":8.9},{"s":"n2","x":38.8,"y":7.2},{"s":"n2","x":40,"y":5.13},{"s":"n2","x":41.5,"y":4.5},{"s":"n2","x":43,"y":3.92},{"s":"n2","x":43.8,"y":4.8},{"s":"n2","x":44.8,"y":6.9},{"s":"n2","x":46.1,"y":8.03},{"s":"n2","x":47,"y":7.5},{"s":"n2","x":48.3,"y":5.5},{"s":"n2","x":50.1,"y":3.8},{"s":"n2","x":51.3,"y":3.2},{"s":"n2","x":52.4,"y":2.35},{"s":"n2","x":53.2,"y":4.1},{"s":"n2","x":54.3,"y":5.8},{"s":"n2","x":55.4,"y":6.5},{"s":"n2","x":56.4,"y":5.7},{"s":"n2","x":57.4,"y":3.8},{"s":"n2","x":58.4,"y":2.47},{"s":"n2","x":59.5,"y":2.2},{"s":"n2","x":60.4,"y":1.74},{"s":"n2","x":61,"y":1.2},{"s":"n2","x":61.6,"y":0.97},{"s":"n2","x":62.3,"y":1.6},{"s":"n2","x":63.2,"y":3.4},{"s":"n2","x":64.7,"y":5.6},{"s":"n2","x":65.5,"y":5.6},{"s":"n2","x":67.1,"y":5.0},{"s":"n2","x":68.9,"y":4.9},{"s":"n2","x":71,"y":4.3},{"s":"n2","x":72,"y":4.3}
  ]},
  "mark": {"type": "line", "interpolate": "monotone", "strokeWidth": 2},
  "encoding": {
    "x": {"field": "x", "type": "quantitative", "scale": {"domain": [0, 80], "nice": false}, "axis": {"values": [0,10,20,30,40,50,60,70,80], "format": "d", "labelFlush": false, "title": null}},
    "y": {"field": "y", "type": "quantitative", "scale": {"domain": [0, 20], "nice": false}, "axis": {"values": [0,2,4,6,8,10,12,14,16,18,20], "format": ".1f", "title": "eyeₐrea", "minExtent": 62, "maxExtent": 62}},
    "color": {"field": "s", "type": "nominal", "scale": {"domain": ["e1","e2","n1","n2"], "range": ["#800026","#3f58a8","#3a8a48","#ff6a0a"]}, "legend": {"orient": "none", "legendX": 1549, "legendY": 8.7, "labelExpr": "datum.label=='n1'?'nocompₑ1':datum.label=='n2'?'nocompₑ2':datum.label"}}
  }
}
]
}
